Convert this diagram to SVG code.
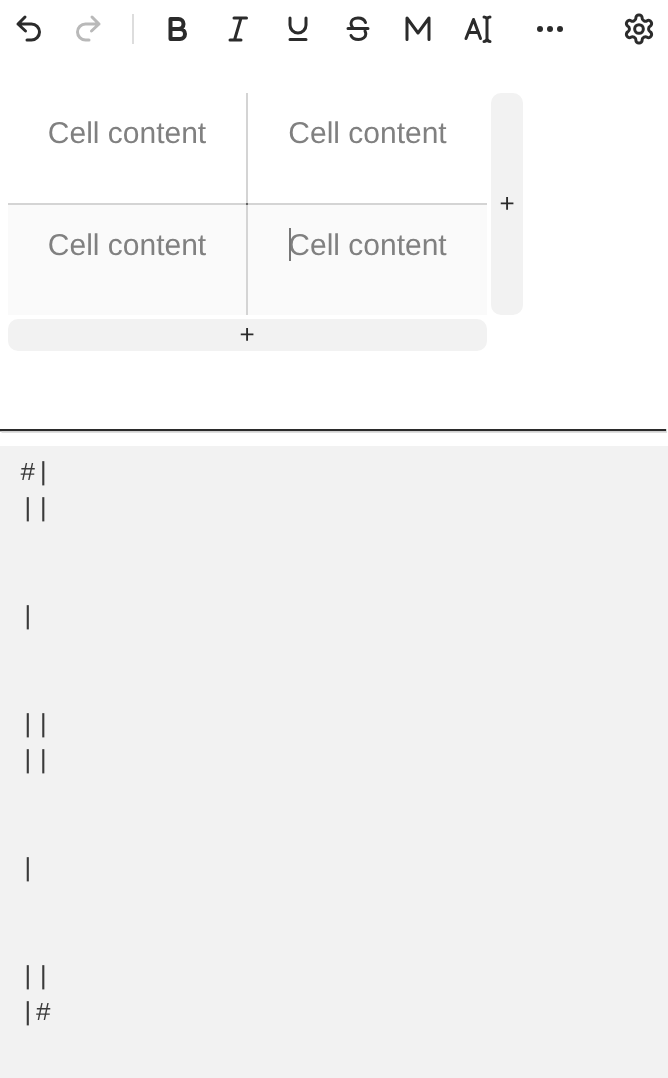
<svg xmlns="http://www.w3.org/2000/svg" width="668" height="1078" viewBox="0 0 668 1078">
<style>
.ic{fill:none;stroke:#2b2b2b;stroke-width:3;stroke-linecap:round;stroke-linejoin:round}
text{text-rendering:geometricPrecision}
.gray{filter:url(#flat)}
.cell{font-family:"Liberation Sans",Arial,sans-serif;font-size:30px;fill:#808080;text-anchor:middle}
.btn{fill:#f2f2f2}
.plus{font-family:"Liberation Sans",Arial,sans-serif;font-size:26px;fill:#2b2b2b;text-anchor:middle}
.code{font-family:"Liberation Mono",monospace;font-size:26px;fill:#3a3a3a}
.grid{stroke:#d4d4d4;stroke-width:2;fill:none}
</style>
<defs><filter id="flat" x="0" y="0" width="1" height="1" color-interpolation-filters="sRGB"><feOffset dx="0" dy="0"/></filter></defs>
<rect width="668" height="1078" fill="#fff"/>
<g id="toolbar">
<path id="undo" class="ic" d="M25 17l-7 7 7.500 7M18 24h13.500a8 8 0 0 1 0 16H27"/>
<path id="redo" class="ic" style="stroke:#b9b9b9" d="M92 17l7 7-7.500 7M99 24H85.500a8 8 0 0 0 0 16H89"/>
<line x1="133" y1="14" x2="133" y2="44" stroke="#dddddd" stroke-width="2"/>
<path id="bold" class="ic" style="stroke-width:4" d="M170.500 19h8a5 5 0 0 1 0 10h-8zM170.500 29h9.500a5 5 0 0 1 0 10h-9.500z"/>
<path id="italic" class="ic" d="M234 18h12.500M230 40h11M241 18l-6.500 22"/>
<path id="underline" class="ic" d="M290 18v7a8 8 0 0 0 16 0v-7M290 39.500h16"/>
<path id="strike" class="ic" d="M348 28.500h20M365.500 22.500c-1-2.800-4-4.500-7.500-4.500-4 0-7 2.300-7 5.300 0 1.800.8 3.500 2 5M365 31c.5 1 .8 2 .8 3 0 3-3 5.500-7.300 5.500-3.500 0-6.500-1.500-7.500-4"/>
<path id="mark" class="ic" d="M407 39.500V18l11 15 11-15v21.500"/>
<path id="ai" class="ic" d="M466 38.500l7.500-19 7 19M468.500 32.500h10M484 17c1.500 0 2.500 1 3 2 .5-1 1.500-2 3-2M487 19v20M484 41.500c1.500 0 2.500-1 3-2.500 .5 1.500 1.500 2.500 3 2.500"/>
<g id="more" fill="#2b2b2b"><circle cx="540" cy="29" r="3"/><circle cx="550" cy="29" r="3"/><circle cx="560" cy="29" r="3"/></g>
<g id="settings" transform="translate(622.200 12.200) scale(1.400)"><path class="ic" style="stroke-width:2.150" d="M12.220 2h-.44a2 2 0 0 0-2 2v.18a2 2 0 0 1-1 1.730l-.43.25a2 2 0 0 1-2 0l-.15-.08a2 2 0 0 0-2.730.73l-.22.38a2 2 0 0 0 .73 2.730l.15.1a2 2 0 0 1 1 1.720v.51a2 2 0 0 1-1 1.740l-.15.09a2 2 0 0 0-.73 2.730l.22.38a2 2 0 0 0 2.730.73l.15-.08a2 2 0 0 1 2 0l.43.25a2 2 0 0 1 1 1.730V20a2 2 0 0 0 2 2h.44a2 2 0 0 0 2-2v-.18a2 2 0 0 1 1-1.730l.43-.25a2 2 0 0 1 2 0l.15.08a2 2 0 0 0 2.730-.73l.22-.39a2 2 0 0 0-.73-2.730l-.15-.08a2 2 0 0 1-1-1.740v-.5a2 2 0 0 1 1-1.740l.15-.09a2 2 0 0 0 .73-2.730l-.22-.38a2 2 0 0 0-2.730-.73l-.15.08a2 2 0 0 1-2 0l-.43-.25a2 2 0 0 1-1-1.730V4a2 2 0 0 0-2-2z"/><circle class="ic" style="stroke-width:2.150" cx="12" cy="12" r="3.100"/></g>
</g>
<g id="table">
<rect x="8" y="205" width="479" height="110" fill="#fafafa"/>
<line class="grid" x1="247" y1="93" x2="247" y2="315"/>
<line class="grid" x1="8" y1="204" x2="487" y2="204"/>
<rect x="246" y="203" width="2" height="2" fill="#666"/>
<g class="gray">
<text class="cell" x="127" y="143">Cell content</text>
<text class="cell" x="367.500" y="143">Cell content</text>
<text class="cell" x="127" y="255">Cell content</text>
<text class="cell" x="367.500" y="255">Cell content</text>
</g>
<rect x="289" y="228" width="2" height="33" fill="#777"/>
</g>
<g id="add-column"><rect class="btn" x="491" y="93" width="32" height="222" rx="10"/><text class="plus gray" x="507" y="212">+</text></g>
<g id="add-row"><rect class="btn" x="8" y="319" width="479" height="32" rx="10"/><text class="plus gray" x="247" y="343">+</text></g>
<g id="rule"><rect x="0" y="429" width="666" height="2.300" fill="#2b2b2b"/><rect x="1.500" y="431.300" width="665.500" height="1.500" fill="#d8d8d8"/><rect x="666" y="429" width="1" height="2.300" fill="#d8d8d8"/></g>
<g id="source">
<rect x="0" y="446" width="668" height="632" fill="#f2f2f2"/>
<g class="gray">
<text class="code" x="20" y="480">#|</text>
<text class="code" x="20" y="516">||</text>
<text class="code" x="20" y="624">|</text>
<text class="code" x="20" y="732">||</text>
<text class="code" x="20" y="768">||</text>
<text class="code" x="20" y="876">|</text>
<text class="code" x="20" y="984">||</text>
<text class="code" x="20" y="1020">|#</text>
</g>
</g>
</svg>
